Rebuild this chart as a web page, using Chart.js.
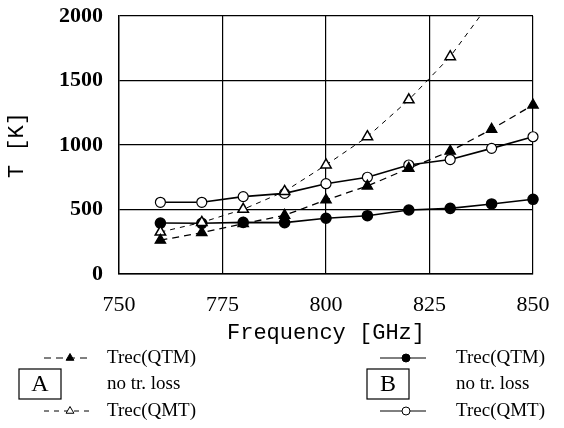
<!DOCTYPE html>
<html>
<head>
<meta charset="utf-8">
<script src="https://cdn.jsdelivr.net/npm/chart.js@4/dist/chart.umd.min.js"></script>
<style>
html, body { margin: 0; padding: 0; background: #fff; }
</style>
</head>
<body>
<canvas id="chart" width="564" height="428"></canvas>
<script>
// values
const freq = [760, 770, 780, 790, 800, 810, 820, 830, 840, 850]
const trecQtmA = [262, 320, 390, 455, 574, 682, 819, 952, 1122, 1310]
const trecQmtA = [325, 400, 501, 640, 845, 1064, 1350, 1685, 2120, 2650]
const trecQtmB = [395, 393, 400, 398, 432, 452, 496, 509, 543, 579]
const trecQmtB = [556, 556, 600, 625, 700, 750, 845, 887, 974, 1064]
const yTicks = [0, 500, 1000, 1500, 2000]
const xTicks = [750, 775, 800, 825, 850]

function pts(ys) {
    return freq.map((f, i) => ({ x: f, y: ys[i] }))
}

const markClip = { left: 12, right: 12, top: 0, bottom: 12 }

const datasets = [
    {
        label: 'Trec(QTM)', data: pts(trecQtmA),
        borderColor: '#000', borderWidth: 1.3, borderDash: [7, 5],
        pointStyle: 'triangle', pointRadius: 6,
        pointBackgroundColor: '#000', pointBorderColor: '#000', clip: markClip
    },
    {
        label: 'Trec(QMT)', data: pts(trecQmtA),
        borderColor: '#000', borderWidth: 1, borderDash: [5, 5],
        pointStyle: 'triangle', pointRadius: 6, pointBorderWidth: 1.5,
        pointBackgroundColor: '#fff', pointBorderColor: '#000', clip: markClip
    },
    {
        label: 'Trec(QTM)', data: pts(trecQtmB),
        borderColor: '#000', borderWidth: 1.6,
        pointStyle: 'circle', pointRadius: 5,
        pointBackgroundColor: '#000', pointBorderColor: '#000', clip: markClip
    },
    {
        label: 'Trec(QMT)', data: pts(trecQmtB),
        borderColor: '#000', borderWidth: 1.6,
        pointStyle: 'circle', pointRadius: 5, pointBorderWidth: 1.2,
        pointBackgroundColor: '#fff', pointBorderColor: '#000', clip: markClip
    }
]

// where each legend entry goes (dataset index, line start, text start, row)
const legendItems = [
    { index: 0, x: 44, tx: 107, row: 0 },
    { index: 1, x: 44, tx: 107, row: 2 },
    { index: 2, x: 380, tx: 456, row: 0 },
    { index: 3, x: 380, tx: 456, row: 2 }
]
const legendRows = [358, 384, 411]
const groupBoxes = [
    { text: 'A', x: 19, tx: 107 },
    { text: 'B', x: 367, tx: 456 }
]

function marker(ctx, style, x, y, r, fill) {
    ctx.beginPath()
    if (style === 'triangle') {
        ctx.moveTo(x, y - r)
        ctx.lineTo(x + r * 0.866, y + r * 0.5)
        ctx.lineTo(x - r * 0.866, y + r * 0.5)
        ctx.closePath()
    } else {
        ctx.arc(x, y, r, 0, Math.PI * 2)
    }
    ctx.fillStyle = fill
    ctx.fill()
    ctx.lineWidth = 1
    ctx.strokeStyle = '#000'
    ctx.stroke()
}

const paperLegend = {
    id: 'paperLegend',
    afterDraw(chart) {
        const ctx = chart.ctx
        ctx.save()
        ctx.font = '19px "Liberation Serif"'
        ctx.textBaseline = 'middle'
        legendItems.forEach(item => {
            const ds = chart.data.datasets[item.index]
            const y = legendRows[item.row]
            ctx.strokeStyle = '#000'
            ctx.lineWidth = 1
            ctx.setLineDash(ds.borderDash || [])
            ctx.beginPath()
            ctx.moveTo(item.x, y)
            ctx.lineTo(item.x + 46, y)
            ctx.stroke()
            ctx.setLineDash([])
            marker(ctx, ds.pointStyle, item.x + 26, y, ds.pointStyle === 'triangle' ? 4.5 : 4, ds.pointBackgroundColor)
            ctx.fillStyle = '#000'
            ctx.fillText(ds.label, item.tx, y)
        })
        groupBoxes.forEach(b => {
            const y = legendRows[1]
            ctx.strokeStyle = '#000'
            ctx.lineWidth = 1.2
            ctx.strokeRect(b.x, y - 15, 42, 30)
            ctx.fillStyle = '#000'
            ctx.font = '24px "Liberation Serif"'
            ctx.textAlign = 'center'
            ctx.fillText(b.text, b.x + 21, y + 1)
            ctx.textAlign = 'left'
            ctx.font = '19px "Liberation Serif"'
            ctx.fillText('no tr. loss', b.tx, y)
        })
        ctx.restore()
    }
}

const ctx = document.getElementById('chart').getContext('2d')
const chart = new Chart(ctx, {
    type: 'line',
    data: { datasets: datasets },
    plugins: [paperLegend],
    options: {
        responsive: false,
        animation: false,
        events: [],
        layout: { padding: { top: 16, right: 31, left: 0, bottom: 82 } },
        plugins: { legend: { display: false }, tooltip: { enabled: false } },
        scales: {
            x: {
                type: 'linear', min: 750, max: 850,
                afterFit: s => { s.height = 72; s.paddingRight = 0 },
                afterBuildTicks: s => { s.ticks = xTicks.map(v => ({ value: v })) },
                grid: { color: '#000', lineWidth: 1.2, drawTicks: false },
                border: { color: '#000', width: 1.4 },
                ticks: {
                    color: '#000', padding: 18, callback: v => String(v),
                    font: { family: 'Liberation Serif', size: 22 }
                },
                title: {
                    display: true, text: 'Frequency [GHz]', color: '#000',
                    font: { family: 'Liberation Mono', size: 22 }, padding: { top: 0, bottom: 0 }
                }
            },
            y: {
                min: 0, max: 2000,
                afterFit: s => { s.width = 119; s.paddingTop = 0; s.paddingBottom = 0 },
                afterBuildTicks: s => { s.ticks = yTicks.map(v => ({ value: v })) },
                grid: { color: '#000', lineWidth: 1.2, drawTicks: false },
                border: { color: '#000', width: 1.4 },
                ticks: {
                    color: '#000', padding: 16, callback: v => String(v),
                    font: { family: 'Liberation Serif', size: 22, weight: 'bold' }
                },
                title: {
                    display: true, text: 'T [K]', color: '#000',
                    font: { family: 'Liberation Mono', size: 22 }, padding: { top: 4, bottom: 0 }
                }
            }
        }
    }
})
</script>
</body>
</html>
